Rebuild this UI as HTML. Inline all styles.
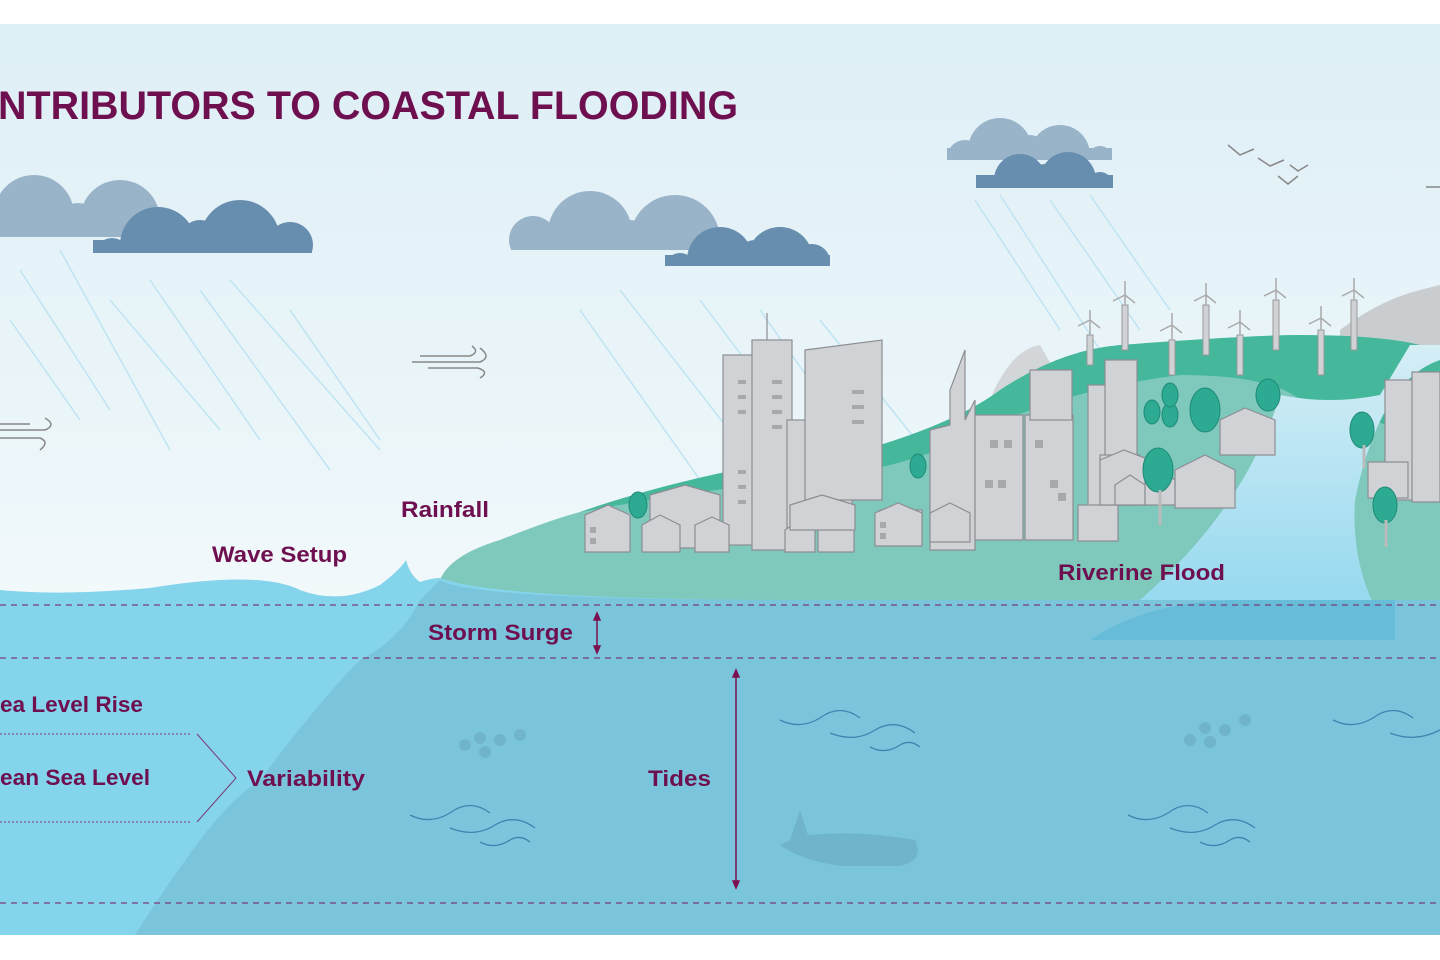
<!DOCTYPE html>
<html><head><meta charset="utf-8"><style>
html,body{margin:0;padding:0;background:#fff}
svg{display:block}
text{font-family:"Liberation Sans",sans-serif;font-weight:bold;fill:#6e1050}
</style></head><body>
<svg width="1440" height="960" viewBox="0 0 1440 960" xmlns="http://www.w3.org/2000/svg">
<defs>
<linearGradient id="sky" x1="0" y1="0" x2="0" y2="1">
<stop offset="0" stop-color="#deeff6"/><stop offset="0.55" stop-color="#eef7fa"/><stop offset="0.85" stop-color="#ffffff"/><stop offset="1" stop-color="#ffffff"/>
</linearGradient>
<linearGradient id="river" x1="0" y1="0" x2="0" y2="1">
<stop offset="0" stop-color="#d6eef6"/><stop offset="1" stop-color="#8dd6ee"/>
</linearGradient>
<clipPath id="c1"><rect x="0" y="0" width="1440" height="237"/></clipPath>
<clipPath id="c2"><rect x="0" y="0" width="1440" height="253"/></clipPath>
<clipPath id="c3"><rect x="0" y="0" width="1440" height="250"/></clipPath>
<clipPath id="c4"><rect x="0" y="0" width="1440" height="266"/></clipPath>
<clipPath id="c5"><rect x="0" y="0" width="1440" height="160"/></clipPath>
<clipPath id="c6"><rect x="0" y="0" width="1440" height="188"/></clipPath>
</defs>
<rect x="0" y="24" width="1440" height="912" fill="url(#sky)"/>

<!-- clouds -->
<g fill="#99b3c9" clip-path="url(#c1)"><circle cx="34" cy="215" r="40"/><circle cx="78" cy="225" r="22"/><circle cx="120" cy="220" r="40"/><rect x="0" y="215" width="160" height="30"/></g>
<g fill="#678daf" clip-path="url(#c2)"><circle cx="112" cy="255" r="17"/><circle cx="158" cy="245" r="38"/><circle cx="200" cy="240" r="20"/><circle cx="240" cy="240" r="40"/><circle cx="290" cy="245" r="23"/><rect x="93" y="240" width="219" height="20"/></g>
<g fill="#99b3c9" clip-path="url(#c3)"><circle cx="533" cy="240" r="24"/><circle cx="590" cy="233" r="42"/><circle cx="630" cy="240" r="20"/><circle cx="675" cy="240" r="45"/><rect x="511" y="230" width="211" height="25"/></g>
<g fill="#678daf" clip-path="url(#c4)"><circle cx="680" cy="268" r="15"/><circle cx="720" cy="260" r="33"/><circle cx="755" cy="258" r="18"/><circle cx="780" cy="260" r="33"/><circle cx="812" cy="262" r="18"/><rect x="665" y="255" width="165" height="15"/></g>
<g fill="#99b3c9" clip-path="url(#c5)"><circle cx="965" cy="158" r="18"/><circle cx="1000" cy="150" r="32"/><circle cx="1030" cy="150" r="15"/><circle cx="1060" cy="155" r="30"/><circle cx="1100" cy="158" r="12"/><rect x="947" y="148" width="165" height="15"/></g>
<g fill="#678daf" clip-path="url(#c6)"><circle cx="990" cy="190" r="14"/><circle cx="1020" cy="180" r="26"/><circle cx="1045" cy="178" r="14"/><circle cx="1068" cy="180" r="28"/><circle cx="1100" cy="185" r="13"/><rect x="976" y="175" width="137" height="15"/></g>

<!-- rain -->
<g stroke="#bfe4f2" stroke-width="1.5">
<line x1="20" y1="270" x2="110" y2="410"/><line x1="60" y1="250" x2="170" y2="450"/><line x1="110" y1="300" x2="220" y2="430"/><line x1="150" y1="280" x2="260" y2="440"/><line x1="200" y1="290" x2="330" y2="470"/><line x1="230" y1="280" x2="380" y2="450"/><line x1="290" y1="310" x2="380" y2="440"/><line x1="10" y1="320" x2="80" y2="420"/>
<line x1="580" y1="310" x2="700" y2="480"/><line x1="620" y1="290" x2="760" y2="470"/><line x1="700" y1="300" x2="820" y2="460"/><line x1="760" y1="310" x2="880" y2="480"/><line x1="820" y1="320" x2="940" y2="470"/>
<line x1="975" y1="200" x2="1060" y2="330"/><line x1="1000" y1="195" x2="1100" y2="350"/><line x1="1050" y1="200" x2="1140" y2="330"/><line x1="1090" y1="195" x2="1170" y2="310"/>
</g>

<!-- wind -->
<g fill="none" stroke="#888" stroke-width="1.5">
<path d="M412 362 H480 q12 -5 0 -14 M420 356 H470 q10 -4 2 -10 M428 368 H478 q12 4 2 10"/>
<path d="M0 430 H45 q12 -5 0 -12 M0 438 H40 q10 4 0 12 M0 424 H30"/>
<path d="M1426 187 H1440"/>
</g>
<!-- birds -->
<g fill="none" stroke="#888" stroke-width="1.5">
<path d="M1228 145 l12 10 l14 -6"/><path d="M1258 158 l12 8 l14 -6"/><path d="M1278 176 l10 8 l10 -8"/><path d="M1290 165 l8 6 l10 -6"/>
</g>

<!-- distant hills -->
<path d="M1340 330 Q1380 300 1420 290 L1440 285 V380 L1340 360 Z" fill="#c9cdd0"/>
<path d="M990 400 Q1010 350 1040 345 L1060 380 Z" fill="#d3d6d8"/>

<!-- dark green hill -->
<path d="M580 512 Q700 470 880 445 Q960 420 1000 390 Q1060 350 1120 345 Q1250 335 1300 335 Q1380 335 1420 345 L1440 350 V480 L1380 520 L1200 500 Q1000 480 800 520 Z" fill="#45b89c"/>
<!-- lighter teal land -->
<path d="M440 580 Q450 555 500 540 Q550 520 580 512 Q700 490 800 480 Q900 470 960 440 Q1060 390 1180 375 Q1270 375 1300 400 L1440 440 V600 L440 600 Z" fill="#7ec8bc"/>
<!-- river -->
<path d="M1280 395 Q1330 405 1380 395 L1410 345 L1440 345 V360 Q1380 380 1355 500 Q1350 580 1395 640 L1090 640 Q1240 530 1280 395 Z" fill="url(#river)"/>

<!-- buildings -->
<g fill="#d1d2d6" stroke="#8d8e92" stroke-width="1.2">
<rect x="723" y="355" width="42" height="190"/><rect x="752" y="340" width="40" height="210"/><line x1="767" y1="313" x2="767" y2="340"/>
<rect x="787" y="420" width="20" height="130"/>
<rect x="812" y="380" width="40" height="150"/><path d="M805 350 L882 340 V500 H805 Z"/>
<rect x="880" y="510" width="42" height="36"/>
<path d="M930 430 L950 425 V390 L965 350 V420 L975 400 V550 H930 Z"/>
<rect x="975" y="415" width="48" height="125"/><rect x="1025" y="415" width="48" height="125"/>
<rect x="1030" y="370" width="42" height="50"/>
<rect x="1088" y="385" width="30" height="130"/><rect x="1105" y="360" width="32" height="100"/>
<rect x="1100" y="455" width="40" height="50"/>
<rect x="1078" y="505" width="40" height="36"/>
<rect x="1385" y="380" width="30" height="120"/><rect x="1412" y="372" width="28" height="130"/>
<rect x="1368" y="462" width="40" height="36"/>
<!-- houses -->
<path d="M585 515 L608 505 L630 515 V552 H585 Z"/><path d="M650 495 L685 485 L720 495 V548 H650 Z"/>
<path d="M642 525 L660 515 L680 525 V552 H642 Z"/><path d="M695 525 L712 517 L729 525 V552 H695 Z"/>
<path d="M785 530 L800 520 L815 530 V552 H785 Z"/><path d="M818 530 L835 520 L854 530 V552 H818 Z"/>
<path d="M790 505 L822 495 L855 505 V530 H790 Z"/>
<path d="M875 513 L898 503 L922 513 V546 H875 Z"/><path d="M930 513 L950 503 L970 513 V542 H930 Z"/>
<path d="M1100 460 L1124 450 L1150 460 V505 H1100 Z"/><path d="M1115 485 L1130 475 L1145 485 V505 H1115 Z"/>
<path d="M1175 470 L1205 455 L1235 470 V508 H1175 Z"/><path d="M1145 480 L1160 470 L1175 480 V505 H1145 Z"/>
<path d="M1220 420 L1245 408 L1275 420 V455 H1220 Z"/>
</g>
<g fill="#a8a9ad">
<rect x="738" y="380" width="8" height="4"/><rect x="738" y="395" width="8" height="4"/><rect x="738" y="410" width="8" height="4"/><rect x="738" y="470" width="8" height="4"/><rect x="738" y="485" width="8" height="4"/><rect x="738" y="500" width="8" height="4"/>
<rect x="772" y="380" width="10" height="4"/><rect x="772" y="395" width="10" height="4"/><rect x="772" y="410" width="10" height="4"/><rect x="772" y="425" width="10" height="4"/>
<rect x="852" y="390" width="12" height="4"/><rect x="852" y="405" width="12" height="4"/><rect x="852" y="420" width="12" height="4"/>
<rect x="990" y="440" width="8" height="8"/><rect x="1004" y="440" width="8" height="8"/><rect x="985" y="480" width="8" height="8"/><rect x="998" y="480" width="8" height="8"/>
<rect x="1035" y="440" width="8" height="8"/><rect x="1050" y="480" width="8" height="8"/><rect x="1058" y="493" width="8" height="8"/>
<rect x="590" y="527" width="6" height="6"/><rect x="590" y="538" width="6" height="6"/><rect x="880" y="522" width="6" height="6"/><rect x="880" y="533" width="6" height="6"/>
</g>

<!-- trees -->
<g fill="#2daa92" stroke="#1f8a77" stroke-width="1">
<ellipse cx="638" cy="505" rx="9" ry="13"/><ellipse cx="918" cy="466" rx="8" ry="12"/><ellipse cx="1158" cy="470" rx="15" ry="22"/><ellipse cx="1205" cy="410" rx="15" ry="22"/><ellipse cx="1268" cy="395" rx="12" ry="16"/><ellipse cx="1152" cy="412" rx="8" ry="12"/><ellipse cx="1170" cy="415" rx="8" ry="12"/><ellipse cx="1362" cy="430" rx="12" ry="18"/><ellipse cx="1385" cy="505" rx="12" ry="18"/><ellipse cx="1170" cy="395" rx="8" ry="12"/>
</g>
<g stroke="#bbb" stroke-width="3"><line x1="1160" y1="490" x2="1160" y2="525"/><line x1="1386" y1="520" x2="1386" y2="547"/><line x1="1364" y1="445" x2="1364" y2="468"/></g>

<!-- turbines -->
<g stroke="#999" stroke-width="1" fill="#d1d2d6">
<rect x="1087" y="335" width="6" height="30"/><rect x="1122" y="305" width="6" height="45"/><rect x="1169" y="340" width="6" height="35"/><rect x="1203" y="305" width="6" height="50"/><rect x="1237" y="335" width="6" height="40"/><rect x="1273" y="300" width="6" height="50"/><rect x="1318" y="330" width="6" height="45"/><rect x="1351" y="300" width="6" height="50"/>
</g>
<g stroke="#aaa" stroke-width="1.5" fill="none">
<path d="M1090 320 v15 M1090 320 l-12 6 M1090 320 l10 8 M1090 320 v-10"/>
<path d="M1125 295 v10 M1125 295 l-12 6 M1125 295 l10 8 M1125 295 v-14"/>
<path d="M1172 325 v15 M1172 325 l-12 6 M1172 325 l10 8 M1172 325 v-12"/>
<path d="M1206 295 v10 M1206 295 l-12 6 M1206 295 l10 8 M1206 295 v-12"/>
<path d="M1240 322 v13 M1240 322 l-12 6 M1240 322 l10 8 M1240 322 v-12"/>
<path d="M1276 290 v10 M1276 290 l-12 6 M1276 290 l10 8 M1276 290 v-12"/>
<path d="M1321 318 v12 M1321 318 l-12 6 M1321 318 l10 8 M1321 318 v-12"/>
<path d="M1354 290 v10 M1354 290 l-12 6 M1354 290 l10 8 M1354 290 v-12"/>
</g>

<!-- water -->
<path d="M0 590 Q60 596 150 588 Q260 570 300 590 Q340 605 380 585 Q400 570 406 560 Q410 575 420 582 Q432 578 440 578 Q500 600 800 600 L1440 600 V935 H0 Z" fill="#84d4ec"/>
<path d="M440 580 Q470 600 800 600 L1440 600 V935 H135 Q170 880 200 840 Q230 800 260 780 Q320 700 360 660 Q400 640 420 600 Z" fill="#7bc5dc"/>
<path d="M1090 640 Q1150 600 1240 600 L1395 600 L1395 640 Z" fill="#5ab6d8" opacity="0.6"/>

<!-- dashed lines -->
<g stroke="#7a3c76" stroke-width="1.2" stroke-dasharray="6 5" fill="none">
<line x1="0" y1="605" x2="1440" y2="605"/><line x1="0" y1="658" x2="1440" y2="658"/><line x1="0" y1="903" x2="1440" y2="903"/>
</g>
<g stroke="#7a3c76" stroke-width="1" stroke-dasharray="2 2"><line x1="0" y1="734" x2="190" y2="734"/><line x1="0" y1="822" x2="190" y2="822"/></g>
<path d="M197 734 L236 778 L197 822" fill="none" stroke="#7a3c76" stroke-width="1"/>

<!-- arrows -->
<g stroke="#7a1050" stroke-width="1.5" fill="#7a1050">
<line x1="597" y1="618" x2="597" y2="648"/><path d="M594 620 L597 613 L600 620 Z M594 646 L597 653 L600 646 Z"/>
<line x1="736" y1="675" x2="736" y2="883"/><path d="M733 677 L736 670 L739 677 Z M733 881 L736 888 L739 881 Z"/>
</g>

<!-- sea waves -->
<g fill="none" stroke="#3e84b0" stroke-width="1.3">
<path d="M410 815 q20 10 40 -2 q20 -15 40 0 M450 828 q25 10 45 -3 q20 -12 40 3 M480 842 q15 8 30 -2 q10 -6 20 2" />
<path d="M780 720 q20 10 40 -2 q20 -15 40 0 M830 733 q25 10 45 -3 q20 -12 40 3 M870 747 q15 8 30 -2 q10 -6 20 2"/>
<path d="M1128 815 q20 10 40 -2 q20 -15 40 0 M1170 828 q25 10 45 -3 q20 -12 40 3 M1200 842 q15 8 30 -2 q10 -6 20 2"/>
<path d="M1333 720 q20 10 40 -2 q20 -15 40 0 M1390 733 q25 10 50 -3"/>
</g>
<g fill="#6fb3cc"><path d="M790 840 L800 810 L808 835 Q860 830 915 840 Q925 860 900 866 L840 866 Q800 860 780 845 Z"/>
<circle cx="465" cy="745" r="6"/><circle cx="480" cy="738" r="6"/><circle cx="500" cy="740" r="6"/><circle cx="520" cy="735" r="6"/><circle cx="485" cy="752" r="6"/>
<circle cx="1190" cy="740" r="6"/><circle cx="1205" cy="728" r="6"/><circle cx="1225" cy="730" r="6"/><circle cx="1245" cy="720" r="6"/><circle cx="1210" cy="742" r="6"/></g>

<!-- labels -->
<text x="-2" y="119" font-size="40" textLength="740" lengthAdjust="spacingAndGlyphs">NTRIBUTORS TO COASTAL FLOODING</text>
<g font-size="22">
<text x="401" y="517" textLength="88" lengthAdjust="spacingAndGlyphs">Rainfall</text>
<text x="212" y="562" textLength="135" lengthAdjust="spacingAndGlyphs">Wave Setup</text>
<text x="1058" y="580" textLength="167" lengthAdjust="spacingAndGlyphs">Riverine Flood</text>
<text x="428" y="640" textLength="145" lengthAdjust="spacingAndGlyphs">Storm Surge</text>
<text x="0" y="712" textLength="143" lengthAdjust="spacingAndGlyphs">ea Level Rise</text>
<text x="0" y="785" textLength="150" lengthAdjust="spacingAndGlyphs">ean Sea Level</text>
<text x="247" y="786" textLength="118" lengthAdjust="spacingAndGlyphs">Variability</text>
<text x="648" y="786" textLength="63" lengthAdjust="spacingAndGlyphs">Tides</text>
</g>
</svg>
</body></html>
